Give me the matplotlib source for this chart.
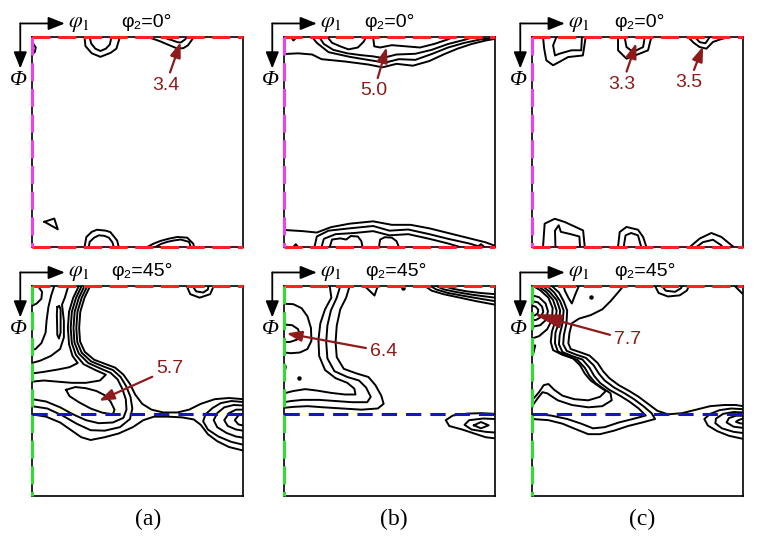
import matplotlib.pyplot as plt

plt.rcParams['lines.scale_dashes'] = False
plt.rcParams['mathtext.fontset'] = 'stix'

# ODF sections: every contour line is a list of (phi1, Phi) points in degrees
a_top = [
    [(0.6, 3.0), (1.6, 4.5), (1.2, 6.5), (0.4, 7.0)],
    [(22.4, 0), (22.8, 3.9), (25.5, 7.0), (29.2, 8.5), (33.5, 6.8), (36.0, 5.0), (37.5, 0)],
    [(24.6, 0), (25.2, 2.7), (27.0, 5.0), (29.2, 6.0), (31.5, 5.0), (33.2, 3.2), (33.9, 0)],
    [(49.1, 0), (52.0, 0.9), (54.8, 1.9), (58.5, 3.5), (61.9, 4.9), (64.5, 4.8), (66.5, 3.6), (68.5, 0.8), (68.6, 0)],
    [(56.2, 0), (57.8, 0.8), (59.8, 1.4), (62.0, 2.2), (63.4, 2.4), (65.5, 0.9), (65.8, 0)],
    [(5.3, 79.2), (9.5, 77.8), (11.0, 82.4), (5.3, 79.2)],
    [(22.4, 90), (23.2, 85.7), (25.5, 83.5), (27.7, 82.6), (31.5, 83.0), (33.4, 83.6), (36.3, 87.2), (37.0, 90)],
    [(24.2, 90), (24.6, 87.8), (26.5, 86.0), (28.5, 85.0), (30.8, 85.2), (32.8, 86.0), (34.3, 88.0), (34.9, 90)],
    [(49.1, 90), (52.0, 88.5), (54.8, 87.4), (58.5, 86.4), (62.0, 85.7), (66.2, 86.0), (68.8, 88.6), (69.1, 90)],
    [(52.7, 90), (55.0, 88.7), (57.7, 87.8), (60.5, 87.2), (63.4, 86.8), (67.0, 87.8), (67.7, 90)],
]

b_top = [
    [(3.0, 0), (4.0, 1.5), (5.5, 0)],
    [(18.5, 0), (20.5, 2.5), (24.0, 4.0), (27.5, 5.3), (31.5, 4.5), (34.0, 2.0), (35.0, 0)],
    [(38.0, 0), (38.5, 4.0), (41.0, 4.5), (46.0, 3.5), (52.0, 4.0), (58.0, 4.5), (64.0, 3.0), (70.0, 1.0), (72.0, 0)],
    [(15.0, 0), (17.0, 3.0), (21.0, 5.5), (27.0, 7.0), (33.0, 7.8), (38.0, 8.3), (42.0, 9.0), (48.0, 7.5), (56.0, 7.2),
     (63.0, 5.5), (70.0, 3.0), (77.0, 1.2), (81.0, 0)],
    [(12.0, 0), (14.0, 2.5), (19.0, 6.5), (28.0, 8.5), (37.0, 10.0), (43.0, 11.0), (49.0, 9.5), (56.0, 9.8), (63.0, 7.3),
     (70.0, 4.5), (77.0, 2.5), (84.0, 1.0), (90.0, 0.5)],
    [(0, 7.3), (6.0, 7.0), (12.0, 7.5), (16.0, 9.5), (26.0, 10.5), (36.0, 11.8), (42.0, 13.0), (48.0, 11.5), (55.0, 12.3),
     (62.0, 10.3), (68.0, 7.5), (74.0, 5.0), (80.0, 3.0), (86.0, 1.5), (90.0, 0.8)],
    [(0, 82.7), (8.0, 83.2), (14.0, 83.8), (20.0, 81.5), (28.0, 80.0), (38.0, 79.0), (46.0, 80.5), (54.0, 80.5),
     (62.0, 82.0), (70.0, 84.0), (78.0, 86.0), (86.0, 88.0), (90.0, 89.5)],
    [(13.0, 90), (14.0, 85.5), (19.0, 83.0), (28.0, 82.0), (38.0, 81.0), (45.0, 83.0), (53.0, 82.5), (62.0, 84.5),
     (70.0, 86.5), (79.0, 88.5), (84.0, 90)],
    [(16.0, 90), (17.0, 86.5), (22.0, 84.5), (30.0, 84.0), (38.0, 83.2), (45.0, 85.0), (53.0, 84.5), (62.0, 86.5),
     (70.0, 88.5), (75.0, 90)],
    [(19.5, 90), (20.5, 86.8), (24.0, 86.3), (26.5, 86.8), (28.5, 85.3), (31.5, 85.5), (33.0, 87.5), (33.5, 90)],
    [(40.5, 90), (41.0, 86.8), (43.0, 85.8), (46.0, 86.0), (48.0, 87.5), (49.0, 90)],
    [(4.0, 90), (5.0, 88.8), (6.0, 90)],
    [(82.5, 90), (84.0, 88.8), (85.5, 90)],
]

c_top = [
    [(4.7, 0), (5.2, 5.0), (6.1, 10.0), (9.0, 12.1), (12.0, 10.5), (15.4, 8.6), (21.7, 7.9), (22.9, 0)],
    [(10.4, 0), (9.0, 3.6), (9.8, 7.9), (11.9, 7.1), (16.8, 5.7), (21.0, 5.7), (21.3, 0)],
    [(36.7, 0), (36.7, 5.7), (40.3, 9.3), (46.0, 7.1), (49.5, 5.7), (50.9, 0)],
    [(39.5, 0), (40.3, 4.3), (43.1, 6.4), (47.4, 4.3), (48.1, 0)],
    [(66.5, 0), (69.0, 2.5), (71.5, 4.3), (74.4, 5.0), (77.2, 2.1), (81.0, 0.8), (84.3, 0)],
    [(69.5, 0), (71.5, 2.2), (74.0, 2.7), (75.8, 0)],
    [(4.7, 90), (5.4, 80.0), (9.7, 77.9), (14.0, 79.3), (21.8, 82.9), (22.5, 90)],
    [(10.0, 90), (9.8, 83.0), (11.4, 80.7), (12.3, 83.5), (16.5, 84.5), (20.2, 85.5), (20.5, 90)],
    [(36.7, 90), (37.4, 83.6), (40.3, 81.4), (45.2, 82.6), (47.4, 85.7), (48.8, 90)],
    [(39.1, 90), (39.9, 85.0), (42.3, 84.0), (45.2, 85.0), (46.6, 90)],
    [(67.3, 90), (71.5, 86.4), (76.5, 84.0), (80.8, 85.7), (84.3, 88.6), (86.0, 90)],
    [(70.1, 90), (73.0, 87.9), (77.2, 86.9), (80.8, 89.3), (81.2, 90)],
]

a_bot = [
    [(2.5, 0), (4.3, 2.5), (4.0, 5.5), (2.0, 7.5), (0, 8.5)],
    [(9.5, 0), (8.2, 4.0), (7.0, 9.0), (6.2, 15.0), (5.8, 20.0), (4.0, 24.5), (1.5, 27.0), (0, 27.5)],
    [(15.5, 0), (14.0, 5.0), (12.8, 8.0), (13.6, 15.0), (13.6, 22.0), (12.0, 27.0), (8.0, 30.0), (3.5, 32.0), (0, 33.0)],
    [(10.8, 9.0), (11.6, 8.5), (12.2, 10.0), (12.2, 20.0), (11.5, 22.5), (10.8, 21.0), (10.6, 12.0), (10.8, 9.0)],
    [(20.0, 0), (17.6, 5.0), (15.8, 11.0), (15.3, 18.0), (15.8, 25.0), (17.3, 30.0), (19.5, 33.0), (16.0, 34.8),
     (11.0, 35.8), (5.0, 36.8), (0, 37.5)],
    [(21.2, 0), (18.8, 5.0), (17.0, 11.0), (16.5, 18.0), (17.0, 24.5), (18.7, 29.5), (22.0, 33.5), (27.0, 36.0),
     (31.5, 38.0), (29.0, 40.5), (23.0, 41.5), (17.0, 41.5), (11.0, 41.0), (5.0, 40.5), (0, 41.0)],
    [(22.4, 0), (20.0, 5.0), (18.2, 11.0), (17.7, 18.0), (18.1, 24.2), (20.0, 29.0), (24.0, 33.0), (29.5, 35.5),
     (33.5, 37.2), (36.5, 40.0), (38.5, 44.0), (40.0, 48.5), (40.3, 53.0), (39.0, 56.5), (34.5, 58.5), (28.5, 58.8),
     (23.0, 57.5), (17.5, 55.0), (12.0, 52.0), (6.0, 49.5), (0, 48.5)],
    [(23.6, 0), (21.2, 5.0), (19.4, 11.0), (18.9, 18.0), (19.3, 24.0), (21.2, 28.6), (25.2, 32.3), (30.5, 34.5),
     (34.5, 36.0), (37.8, 39.0), (40.2, 43.0), (42.0, 47.5), (42.8, 52.5), (41.8, 57.0), (37.5, 60.5), (31.0, 62.0),
     (25.0, 61.8), (19.0, 59.0), (13.0, 55.5), (6.5, 52.5), (0, 51.5)],
    [(24.8, 0), (22.4, 5.0), (20.6, 11.0), (20.1, 18.0), (20.5, 23.8), (22.5, 28.2), (26.5, 31.6), (31.5, 33.5),
     (35.5, 35.0), (39.0, 38.0), (41.8, 42.0), (44.0, 46.5), (47.0, 50.5), (51.0, 53.0), (56.0, 54.2), (62.0, 54.2),
     (67.0, 53.0), (72.0, 50.5), (78.0, 48.5), (84.0, 48.0), (90.0, 48.5)],
    [(14.5, 44.5), (18.5, 43.3), (23.0, 43.8), (27.5, 45.0), (31.0, 46.8), (33.5, 49.5), (35.2, 53.0), (34.5, 55.0),
     (30.0, 54.3), (25.0, 52.5), (20.0, 49.8), (16.0, 47.2), (14.5, 44.5)],
    [(0, 55.0), (6.0, 56.0), (12.0, 58.5), (17.0, 62.0), (21.0, 64.8), (25.0, 66.0), (31.0, 64.8), (37.0, 63.2),
     (43.0, 60.5), (47.5, 57.5), (52.0, 56.0), (58.0, 56.0), (64.0, 56.3), (69.0, 57.2), (72.0, 59.5), (75.0, 63.5),
     (79.0, 66.5), (84.0, 69.0), (90.0, 70.5)],
    [(90.0, 49.7), (85.0, 49.3), (80.5, 50.2), (77.0, 52.3), (74.0, 55.0), (73.0, 58.0), (75.0, 61.5), (79.5, 64.5),
     (85.0, 66.8), (90.0, 68.0)],
    [(90.0, 51.2), (86.0, 51.0), (82.0, 52.0), (79.0, 54.5), (77.5, 57.5), (79.0, 60.5), (83.0, 63.0), (87.0, 64.5),
     (90.0, 65.0)],
    [(90.0, 53.0), (87.0, 53.0), (84.0, 54.5), (82.0, 57.5), (83.5, 60.0), (87.0, 61.5), (90.0, 62.0)],
    [(90.0, 54.8), (88.0, 55.5), (86.5, 57.5), (88.0, 59.3), (90.0, 59.8)],
    [(66.0, 0), (67.5, 3.5), (71.5, 5.0), (76.0, 3.5), (77.5, 0)],
    [(68.5, 0), (70.0, 2.3), (73.0, 2.8), (75.0, 1.5), (75.3, 0)],
]

b_bot = [
    [(60.0, 0), (63.0, 2.0), (68.0, 3.5), (75.0, 5.0), (82.0, 6.5), (90.0, 8.0)],
    [(62.5, 0), (65.0, 1.5), (70.0, 3.0), (77.0, 4.3), (84.0, 5.5), (90.0, 6.5)],
    [(65.0, 0), (68.0, 1.4), (73.0, 2.5), (80.0, 3.7), (86.0, 4.5), (90.0, 5.0)],
    [(68.0, 0), (72.0, 1.2), (78.0, 2.3), (84.0, 3.0), (90.0, 3.5)],
    [(34.4, 0), (38.6, 4.1), (40.0, 0)],
    [(0, 7.6), (4.0, 7.8), (7.5, 9.5), (10.0, 13.0), (11.5, 18.0), (11.7, 23.5), (10.0, 27.0), (6.8, 28.5),
     (3.0, 28.8), (0, 28.5)],
    [(0, 16.5), (3.5, 16.8), (6.0, 18.5), (6.8, 21.0), (5.5, 23.0), (2.5, 24.0), (0, 24.0)],
    [(0, 33.5), (0.8, 34.5), (0.5, 36.0), (0, 36.3)],
    [(19.5, 0), (20.2, 5.0), (17.5, 10.0), (15.5, 16.0), (14.7, 23.0), (15.0, 30.0), (17.5, 36.0), (22.0, 39.5),
     (27.0, 41.5), (30.0, 44.0), (30.5, 46.5), (26.0, 46.5), (20.0, 45.8), (14.0, 44.8), (9.0, 44.2), (4.0, 45.0), (0, 46.0)],
    [(24.0, 0), (22.5, 5.0), (20.0, 10.5), (18.5, 17.0), (18.0, 24.0), (18.5, 31.0), (21.5, 36.5), (27.0, 39.0),
     (32.0, 40.5), (35.0, 43.5), (37.0, 47.5), (35.5, 49.8), (29.0, 49.8), (22.0, 49.3), (15.0, 48.8), (8.0, 48.8),
     (3.0, 49.3), (0, 49.8)],
    [(28.0, 0), (26.5, 5.0), (24.0, 10.0), (22.5, 17.0), (22.0, 24.0), (22.5, 30.5), (25.5, 35.5), (31.0, 37.5),
     (36.0, 39.0), (39.0, 42.5), (41.5, 47.0), (42.5, 50.5), (40.0, 52.5), (33.0, 53.0), (25.0, 52.5), (17.0, 52.0),
     (10.0, 51.5), (4.0, 51.8), (0, 52.2)],
    [(90.0, 54.8), (84.0, 54.5), (78.0, 54.7), (72.0, 55.5), (69.0, 57.5), (70.5, 60.0), (76.0, 61.5), (82.0, 63.5),
     (86.0, 64.8), (90.0, 65.3)],
    [(90.0, 57.0), (85.0, 56.8), (79.0, 57.5), (77.0, 59.5), (80.0, 61.5), (86.0, 62.5), (90.0, 62.8)],
    [(81.0, 59.7), (84.0, 58.3), (87.3, 59.7), (84.0, 61.0), (81.0, 59.7)],
]

c_bot = [
    [(0, 8.5), (1.5, 8.8), (2.7, 10.2), (2.4, 11.8), (1.2, 12.6), (0, 12.7)],
    [(0, 6.5), (2.5, 7.0), (4.3, 8.8), (4.8, 11.0), (3.8, 13.3), (1.8, 14.5), (0, 14.8)],
    [(0, 4.0), (3.0, 4.8), (5.8, 7.5), (6.8, 10.8), (6.0, 14.5), (3.5, 16.8), (0, 17.5)],
    [(0.5, 0), (3.5, 1.8), (7.0, 5.0), (8.8, 9.5), (8.5, 14.5), (6.5, 18.5), (3.0, 21.5), (0, 22.5)],
    [(2.5, 0), (6.0, 2.5), (9.0, 6.0), (10.5, 10.5), (10.0, 15.0), (8.5, 19.5), (8.0, 24.0), (9.0, 27.5), (13.0, 29.5),
     (17.5, 31.0), (20.5, 34.0), (22.5, 37.5), (25.0, 40.5), (28.5, 43.0), (31.5, 45.0), (29.0, 47.5), (24.0, 49.0),
     (18.0, 48.5), (13.0, 47.0), (9.5, 44.5), (7.0, 42.0), (5.0, 42.5), (3.0, 45.5), (0, 49.0)],
    [(4.5, 0), (7.5, 2.5), (10.5, 6.0), (12.0, 10.5), (11.5, 15.5), (10.0, 20.0), (9.8, 24.5), (11.0, 28.0),
     (15.0, 30.0), (19.5, 31.8), (22.5, 35.0), (24.5, 38.5), (27.0, 41.5), (30.5, 44.0), (33.5, 46.0), (34.0, 49.0),
     (30.0, 51.5), (24.0, 52.0), (17.0, 51.0), (11.0, 49.0), (6.5, 46.0), (4.5, 45.5), (2.5, 48.0), (0, 51.5)],
    [(6.5, 0), (9.5, 2.8), (12.0, 6.5), (13.5, 10.5), (13.0, 16.0), (11.8, 21.0), (11.5, 25.0), (13.0, 28.3),
     (17.0, 30.0), (21.5, 31.5), (24.5, 35.0), (26.5, 38.5), (29.0, 41.5), (33.0, 44.5), (37.5, 47.0), (41.5, 49.5),
     (45.5, 52.5), (48.5, 55.5), (43.0, 57.0), (37.0, 58.5), (31.0, 60.5), (26.0, 61.0), (21.0, 59.0), (15.0, 57.0),
     (8.0, 55.5), (3.0, 55.0), (0, 55.0)],
    [(8.5, 0), (11.5, 2.8), (13.5, 6.5), (15.0, 10.5), (14.7, 16.0), (13.6, 21.0), (13.3, 25.0), (14.8, 27.8),
     (18.5, 29.3), (23.0, 30.8), (26.3, 34.0), (28.5, 37.5), (31.0, 40.5), (35.0, 43.5), (39.5, 46.0), (43.5, 48.5),
     (47.5, 51.5), (51.0, 54.5), (52.5, 57.0), (47.0, 58.5), (41.0, 60.0), (35.0, 62.0), (29.0, 63.5), (24.0, 63.5),
     (19.0, 61.5), (13.0, 59.0), (7.0, 57.5), (0, 57.0)],
    [(39.0, 0), (36.5, 3.0), (33.5, 6.5), (30.0, 10.0), (25.0, 12.5), (20.0, 14.0), (17.0, 16.0), (16.0, 20.0),
     (15.5, 24.5), (16.5, 27.0), (20.0, 28.2), (24.5, 29.8), (28.0, 33.0), (30.3, 36.5), (33.0, 39.5), (37.0, 42.5),
     (41.5, 45.0), (45.5, 47.5), (49.5, 50.5), (53.5, 53.5), (58.0, 55.0), (64.0, 54.5), (70.0, 53.0), (76.0, 51.5),
     (82.0, 51.0), (87.0, 51.0), (90.0, 51.5)],
    [(20.0, 0), (18.5, 3.5), (17.0, 7.5), (15.5, 5.0), (14.0, 2.0), (13.5, 0)],
    [(90.0, 52.8), (85.0, 52.5), (80.0, 53.2), (76.0, 54.8), (73.5, 57.0), (75.0, 59.8), (79.0, 62.2), (84.0, 64.2),
     (90.0, 65.5)],
    [(90.0, 54.2), (86.0, 54.0), (81.5, 54.8), (78.5, 56.8), (78.2, 58.8), (81.0, 61.0), (86.0, 62.5), (90.0, 63.0)],
    [(90.0, 55.6), (87.0, 55.6), (84.0, 56.6), (83.0, 58.5), (86.0, 60.3), (90.0, 60.8)],
    [(90.0, 56.8), (88.0, 57.5), (87.0, 58.2), (88.5, 58.8), (90.0, 59.0)],
    [(52.5, 0), (54.0, 3.0), (58.0, 4.5), (63.0, 4.0), (66.0, 2.0), (67.0, 0)],
    [(55.5, 0), (57.0, 2.0), (61.0, 2.5), (63.5, 1.0), (64.0, 0)],
    [(86.5, 0), (88.5, 2.0), (90.0, 3.5)],
    [(0, 25.5), (1.4, 25.5), (0.5, 29.0)],
]

# isolated single-cell maxima
b_bot_dots = [(6.5, 39.6), (50.7, 1.0)]
c_bot_dots = [(25.0, 4.6)]

# labelled maxima: value, phi1, Phi
a_top_peaks = [('3.4', 63.4, 2.2)]
b_top_peaks = [('5.0', 43.8, 4.4)]
c_top_peaks = [('3.3', 44.5, 2.6), ('3.5', 73.0, 4.0)]
a_bot_peaks = [('5.7', 28.6, 49.2)]
b_bot_peaks = [('6.4', 1.1, 20.3)]
c_bot_peaks = [('7.7', 0.7, 12.0)]
# where the values are written
a_top_tags = [(57.0, 20.6)]
b_top_tags = [(38.4, 23.0)]
c_top_tags = [(38.5, 20.2), (67.0, 19.5)]
a_bot_tags = [(58.8, 35.5)]
b_bot_tags = [(42.5, 28.0)]
c_bot_tags = [(40.8, 23.0)]

phi2_values = ['0', '45']
panel_names = ['(a)', '(b)', '(c)']

DRED = '#8e1b1b'
W, H = 757, 539
fig = plt.figure(figsize=(W / 100, H / 100), dpi=100)


def draw_section(col, row, lines, dots, peaks, tags, phi2_x, big_head=False):
    x0 = [32, 284, 532][col]
    y0 = [37, 286][row]
    ax = fig.add_axes([x0 / W, 1 - (y0 + 210) / H, 211 / W, 210 / H])
    ax.set_xlim(0, 90)
    ax.set_ylim(90, 0)
    ax.set_xticks([])
    ax.set_yticks([])
    for s in ax.spines.values():
        s.set_linewidth(1.2)

    for line in lines:
        xs = [p[0] for p in line]
        ys = [p[1] for p in line]
        ax.plot(xs, ys, color='k', lw=1.4)
    for x, y in dots:
        ax.plot(x, y, 'o', color='k', ms=2.2)

    # fibres along the section edges
    ax.plot([0, 90], [0, 0], color='#ff2020', lw=2.2, dashes=(13, 5.5), clip_on=False, zorder=5)
    if row == 0:
        ax.plot([0, 90], [90, 90], color='#ff2020', lw=2.2, dashes=(13, 5.5), clip_on=False, zorder=5)
        ax.plot([0, 0], [0, 90], color='#ee40ee', lw=2.2, dashes=(13, 5.5), clip_on=False, zorder=5)
    else:
        ax.plot([0, 0], [0, 90], color='#30dd30', lw=2.2, dashes=(13, 5.5), clip_on=False, zorder=5)
        ax.plot([0, 90], [54.7, 54.7], color='#1414c8', lw=2.2, dashes=(11, 6.5), zorder=5)

    # axis arrows
    arrow = dict(arrowstyle='-|>,head_length=1.0,head_width=0.4', color='k', lw=1.3,
                 mutation_scale=10, shrinkA=0, shrinkB=0)
    ax.annotate('', xy=(14.0, -5.8), xytext=(-5.0, -5.8), arrowprops=arrow, annotation_clip=False)
    ax.annotate('', xy=(-5.0, 13.5), xytext=(-5.0, -5.8), arrowprops=arrow, annotation_clip=False)
    ax.text(15.3, -5.6, r'$\varphi_1$', fontsize=16, ha='left', va='center')
    ax.text(-6.0, 18.8, 'Φ', family='Liberation Serif', style='italic', fontsize=16, ha='center', va='center')
    ax.text(phi2_x, -6.2, 'φ₂=' + phi2_values[row] + '°', family=['Liberation Sans', 'DejaVu Sans'],
            fontsize=14, ha='center', va='center')

    # labelled maxima
    if big_head:
        style = '-|>,head_length=1.0,head_width=0.25'
        scale = 17
    else:
        style = '-|>,head_length=0.9,head_width=0.32'
        scale = 10
    for (val, px, py), (tx, ty) in zip(peaks, tags):
        ax.annotate(val, xy=(px, py), xytext=(tx, ty), color=DRED, fontsize=14,
                    family='Liberation Sans', ha='center', va='center',
                    arrowprops=dict(arrowstyle=style, color=DRED, lw=1.6, mutation_scale=scale,
                                    shrinkA=1, shrinkB=0),
                    zorder=6)
    return ax


draw_section(0, 0, a_top, [], a_top_peaks, a_top_tags, 48.6)
draw_section(1, 0, b_top, [], b_top_peaks, b_top_tags, 45.0)
draw_section(2, 0, c_top, [], c_top_peaks, c_top_tags, 45.9)
draw_section(0, 1, a_bot, [], a_bot_peaks, a_bot_tags, 47.0)
draw_section(1, 1, b_bot, b_bot_dots, b_bot_peaks, b_bot_tags, 47.8)
draw_section(2, 1, c_bot, c_bot_dots, c_bot_peaks, c_bot_tags, 48.2, big_head=True)

for x, name in zip([148, 394, 642], panel_names):
    fig.text(x / W, 1 - 519 / H, name, family='Liberation Serif', fontsize=17, ha='center', va='center')

fig.savefig('out.png', dpi=100)
